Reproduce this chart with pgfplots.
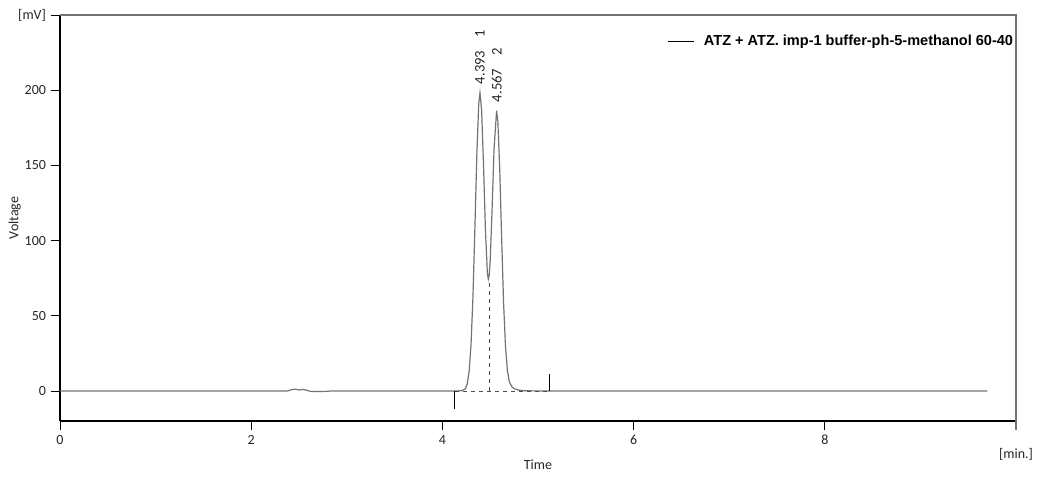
\documentclass[border=0pt]{standalone}
\usepackage{pgfplots}
\pgfplotsset{compat=1.18}
\usepackage{fontspec}
\setmainfont{Carlito}
\newfontfamily\legfont{Liberation Sans}
\begin{document}
\begin{tikzpicture}
\begin{axis}[
    scale only axis,
    width=717pt, height=304.5pt,
    xmin=0, xmax=10,
    ymin=-20, ymax=250,
    axis x line*=bottom, axis y line*=left,
    axis line style={-, black, line width=0.8pt},
    tick align=outside,
    major tick length=7pt,
    tick style={black, line width=0.6pt},
    xtick={0,2,4,6,8,10},
    xticklabels={0,2,4,6,8,},
    ytick={0,50,100,150,200,250},
    yticklabels={0,50,100,150,200,[mV]},
    tick label style={font=\fontsize{10.5}{12}\selectfont, text=black!85},
    /pgf/number format/assume math mode=true,
    legend style={at={(1,1)}, anchor=north east, draw=none, fill=none,
        xshift=3pt, yshift=-11pt, font=\legfont\bfseries\fontsize{10.9}{12}\selectfont},
    legend cell align=left,
    clip=false,
]
% chromatogram
\addplot[black!55, line width=0.9pt, legend image code/.code={\draw[black, line width=0.6pt] (0pt,0pt) -- (19.5pt,0pt);}] coordinates {
    (0,0) (1,0) (2,0) (2.38,0) (2.42,0.8) (2.46,1.2) (2.50,0.6) (2.54,1.0) (2.58,0.5)
    (2.62,-0.3) (2.70,-0.4) (2.78,-0.3) (2.85,0) (3.5,0) (4.13,0) (4.20,0.1)
    (4.24,1.4) (4.26,4.8) (4.28,13.2) (4.30,31.5) (4.32,63.5) (4.34,108.6)
    (4.36,156.8) (4.38,191.0) (4.393,198.2) (4.41,186.9) (4.43,150.3) (4.45,107.3)
    (4.47,78.9) (4.48,74.3) (4.49,77.1) (4.50,86.7) (4.52,121.2) (4.54,160.6)
    (4.567,186.3) (4.58,179.3) (4.60,147.0) (4.62,101.0) (4.64,58.4) (4.66,29.5)
    (4.68,13.5) (4.70,6.0) (4.73,2.5) (4.76,1.2) (4.80,0.5) (4.85,0.2) (4.90,0.1)
    (5.0,0) (6,0) (7,0) (8,0) (9,0) (9.70,0)
};
\addlegendentry{\hspace{5pt}ATZ + ATZ. imp-1 buffer-ph-5-methanol 60-40}
% integration baseline and peak split
\addplot[black!70, dashed, line width=0.6pt, forget plot] coordinates {(4.13,0) (5.115,0)};
\addplot[black!70, dashed, line width=0.6pt, forget plot] coordinates {(4.487,0) (4.487,74)};
% start / end markers
\addplot[black, line width=0.6pt, forget plot] coordinates {(4.13,0) (4.13,-12)};
\addplot[black, line width=0.6pt, forget plot] coordinates {(5.115,0) (5.115,11)};
% peak labels
\node[rotate=90, anchor=west, font=\fontsize{11}{12}\selectfont, text=black!85, inner sep=1pt] at (axis cs:4.393,203) {4.393\hspace{0.9em}1};
\node[rotate=90, anchor=west, font=\fontsize{11}{12}\selectfont, text=black!85, inner sep=1pt] at (axis cs:4.567,191) {4.567\hspace{0.9em}2};
% top and right frame
\draw[black!55, line width=0.8pt] (rel axis cs:0,1) -- (rel axis cs:1,1) -- (rel axis cs:1,0) -- ([yshift=-7pt]rel axis cs:1,0);
% axis titles
\node[rotate=90, font=\fontsize{10.5}{12}\selectfont, text=black!85] at ([xshift=-34pt]rel axis cs:0,0.5) {Voltage};
\node[font=\fontsize{10.5}{12}\selectfont, text=black!85] at ([yshift=-33pt]rel axis cs:0.5,0) {Time};
\node[font=\fontsize{10.5}{12}\selectfont, text=black!85] at ([yshift=-25pt]rel axis cs:1,0) {[min.]};
\end{axis}
\pgfresetboundingbox
\path ([xshift=-45pt,yshift=-41.25pt]current axis.south west) rectangle ([xshift=18.75pt,yshift=11.25pt]current axis.north east);
\end{tikzpicture}
\end{document}
